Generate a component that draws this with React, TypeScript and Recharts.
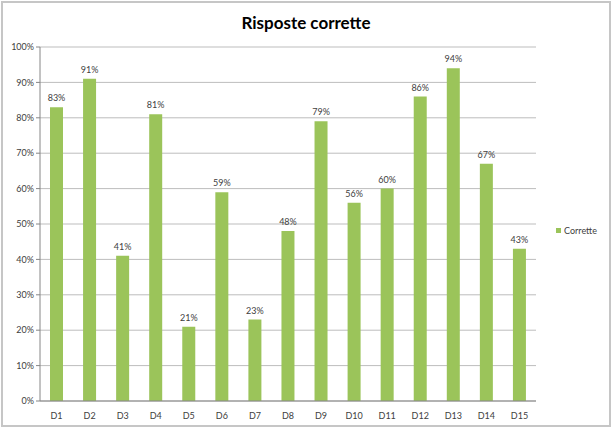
import { JSX } from 'react'
import { BarChart, Bar, XAxis, YAxis, CartesianGrid, LabelList } from 'recharts'

// Domande (categorie)
const domande = ['D1', 'D2', 'D3', 'D4', 'D5', 'D6', 'D7', 'D8', 'D9', 'D10', 'D11', 'D12', 'D13', 'D14', 'D15']

// Percentuale risposte corrette
const corrette = [83, 91, 41, 81, 21, 59, 23, 48, 79, 56, 60, 86, 94, 67, 43]

// Tick asse Y
const yTicks = [0, 10, 20, 30, 40, 50, 60, 70, 80, 90, 100]

const dati = domande.map((d, i) => ({ name: d, Corrette: corrette[i] }))

const FONT = 'Lato, "Open Sans", sans-serif'
const VERDE = '#9bc45a'

export default function App(): JSX.Element {
  return (
    <div style={{ position: 'fixed', left: 0, top: 0, width: 612, height: 428, background: '#fff', fontFamily: FONT }}>
      {/* cornice */}
      <div
        style={{
          position: 'absolute',
          left: 1,
          top: 1,
          width: 606,
          height: 422,
          border: '2px solid #c6c6c6'
        }}
      />
      <div
        style={{
          position: 'absolute',
          left: 0,
          top: 12,
          width: 612,
          textAlign: 'center',
          fontSize: 17,
          fontWeight: 'bold',
          color: '#000'
        }}
      >
        Risposte corrette
      </div>
      {/* legenda */}
      <div
        style={{
          position: 'absolute',
          left: 556,
          top: 225,
          fontSize: 9,
          color: '#404040',
          display: 'flex',
          alignItems: 'center',
          gap: 3
        }}
      >
        <span style={{ width: 5, height: 5, background: VERDE, display: 'inline-block' }} />
        Corrette
      </div>
      <div style={{ position: 'absolute', left: 0, top: 0 }}>
        <BarChart width={612} height={428} data={dati} margin={{ top: 47, right: 76, bottom: 0, left: 0 }}>
          <CartesianGrid vertical={false} stroke="#bdbdbd" strokeWidth={1} />
          <XAxis
            dataKey="name"
            height={27}
            stroke="#868686"
            tickLine={false}
            tick={{ fontSize: 9, fill: '#404040', fontFamily: FONT }}
            interval={0}
            tickMargin={6}
          />
          <YAxis
            domain={[0, 100]}
            ticks={yTicks}
            width={40}
            stroke="#868686"
            tickSize={4}
            tick={{ fontSize: 9, fill: '#404040', fontFamily: FONT }}
            tickFormatter={(v: number) => `${v}%`}
          />
          <Bar dataKey="Corrette" fill={VERDE} barSize={13} isAnimationActive={false}>
            <LabelList
              dataKey="Corrette"
              position="top"
              offset={6}
              formatter={(v: number) => `${v}%`}
              style={{ fontSize: 9, fill: '#404040', fontFamily: FONT }}
            />
          </Bar>
        </BarChart>
      </div>
    </div>
  )
}
